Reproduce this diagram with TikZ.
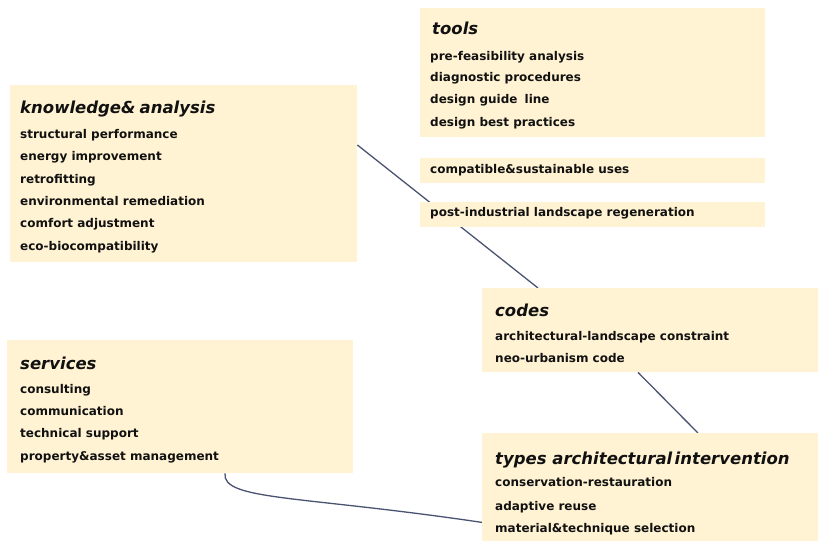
\documentclass[tikz,border=0pt]{standalone}
\usepackage{fontspec}
\setmainfont{DejaVu Sans}
\usetikzlibrary{calc,backgrounds}
\definecolor{boxfill}{HTML}{FFF3D3}
\definecolor{ink}{HTML}{111111}
\definecolor{wirec}{HTML}{4A5370}
\begin{document}
\begin{tikzpicture}[x=1pt,y=-1pt,
 panel/.style={draw=none,fill=boxfill,rectangle,inner sep=0pt,anchor=north west},
 ttl/.style={anchor=west,inner sep=0pt,text=ink,font=\fontsize{16.5}{18}\selectfont\bfseries\itshape,text height=12pt,text depth=3pt},
 itm/.style={anchor=west,inner sep=0pt,text=ink,font=\fontsize{12}{14}\selectfont\bfseries,text height=9pt,text depth=2.4pt},
 wire/.style={draw=wirec,line width=1.3pt}]
\useasboundingbox (0,0) rectangle (821,544);
% panels
\node[panel,minimum width=347pt,minimum height=177pt] (kn) at (10,85) {};
\node[panel,minimum width=345pt,minimum height=129pt] (tools) at (420,8) {};
\node[panel,minimum width=345pt,minimum height=25pt] (compat) at (420,158) {};
\node[panel,minimum width=345pt,minimum height=25pt] (post) at (420,202) {};
\node[panel,minimum width=336pt,minimum height=84pt] (codes) at (482,288) {};
\node[panel,minimum width=336pt,minimum height=108pt] (types) at (482,433) {};
\node[panel,minimum width=346pt,minimum height=133pt] (serv) at (7,340) {};
% knowledge & analysis
\node[ttl] (knT) at (20,109) {knowledge\&\hspace{-0.1em} analysis};
\node[itm] (kn1) at (20,135) {structural performance};
\node[itm] (kn2) at (20,157.3) {energy improvement};
\node[itm] (kn3) at (20,179.7) {retrofitting};
\node[itm] (kn4) at (20,202) {environmental remediation};
\node[itm] (kn5) at (20,224.3) {comfort adjustment};
\node[itm] (kn6) at (20,246.7) {eco-biocompatibility};
% tools
\node[ttl] (toT) at (432,30) {tools};
\node[itm] (to1) at (430,56.7) {pre-feasibility analysis};
\node[itm] (to2) at (430,78.3) {diagnostic procedures};
\node[itm] (to3) at (430,100) {design guide\hspace{0.25em} line};
\node[itm] (to4) at (430,122.7) {design best practices};
\node[itm] (co1) at (430,170) {compatible\&sustainable uses};
\node[itm] (po1) at (430,213.3) {post-industrial landscape regeneration};
% codes
\node[ttl] (cdT) at (495,311.7) {codes};
\node[itm] (cd1) at (495,336.7) {architectural-landscape constraint};
\node[itm] (cd2) at (495,359.3) {neo-urbanism code};
% types
\node[ttl] (tyT) at (495,460) {types architectural\hspace{-0.2em} intervention};
\node[itm] (ty1) at (495,483.3) {conservation-restauration};
\node[itm] (ty2) at (495,506.7) {adaptive reuse};
\node[itm] (ty3) at (495,529.3) {material\&technique selection};
% services
\node[ttl] (svT) at (20,365) {services};
\node[itm] (sv1) at (20,390) {consulting};
\node[itm] (sv2) at (20,411.7) {communication};
\node[itm] (sv3) at (20,434) {technical support};
\node[itm] (sv4) at (20,456.7) {property\&asset management};
% connectors
\begin{pgfonlayer}{background}
\draw[wire] ($(kn.north east)+(0,60)$) -- ($(codes.north west)+(56,0)$);
\draw[wire] ($(codes.south west)+(156,0)$) -- ($(types.north west)+(216,0)$);
\draw[wire] ($(serv.south west)+(218,0)$) .. controls ($(serv.south west)+(215,27)$) and ($(serv.south west)+(293,22)$) .. ($(types.south west)+(0,-19)$);
\end{pgfonlayer}
\end{tikzpicture}
\end{document}
